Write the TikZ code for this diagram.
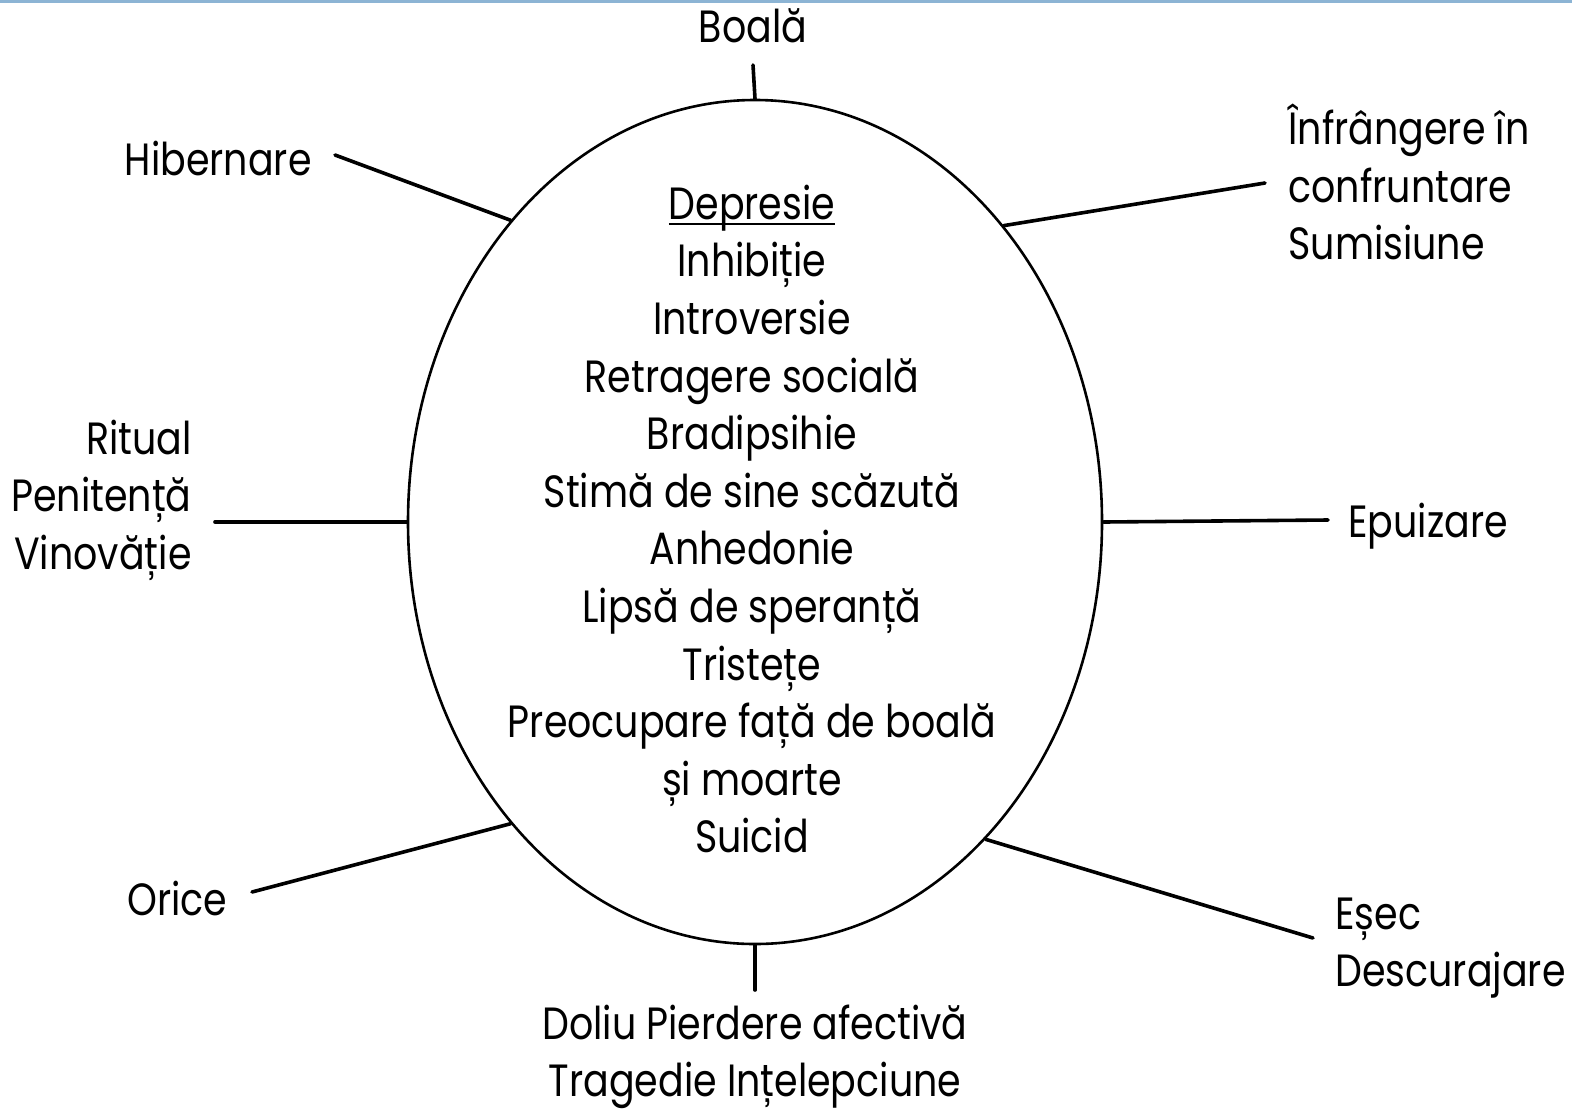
\documentclass[tikz,border=0pt]{standalone}
\usepackage{fontspec}
\setmainfont{Poppins}[FakeStretch=0.84]
\usetikzlibrary{shapes.geometric}
\definecolor{topline}{RGB}{140,180,212}
\newcommand\myul[1]{\setbox0\hbox{#1}\rlap{\rule[-3pt]{\wd0}{1.3pt}}\box0}
\begin{document}
\begin{tikzpicture}[x=0.5pt,y=-0.5pt,
  lbl/.style={inner sep=0pt, font=\fontsize{22.6}{28.8}\selectfont},
  conn/.style={line width=1.8pt, line cap=round}]
\useasboundingbox (0,0) rectangle (1572,1114);
\fill[topline] (0,0) rectangle (1572,3);
\node[ellipse, draw, line width=1.3pt, minimum width=347pt, minimum height=422pt, inner sep=0pt] (E) at (755,522) {};
\node[lbl, align=center] (T) at (752,519) {\myul{Depresie}\\Inhibiție\\Introversie\\Retragere socială\\Bradipsihie\\Stimă de sine scăzută\\Anhedonie\\Lipsă de speranță\\Tristețe\\Preocupare față de boală\\și moarte\\Suicid};
\node[lbl] (boala) at (753,26) {Boală};
\node[lbl, anchor=east] (hib) at (312,158) {Hibernare};
\node[lbl, anchor=west, align=left] (infr) at (1288,182) {Înfrângere în\\confruntare\\Sumisiune};
\node[lbl, anchor=east, align=right] (rit) at (192,500) {Ritual\\Penitență\\Vinovăție};
\node[lbl, anchor=west] (epu) at (1348,526) {Epuizare};
\node[lbl, anchor=west] (ori) at (127,898) {Orice};
\node[lbl, anchor=west, align=left] (esec) at (1335,948) {Eșec\\Descurajare};
\node[lbl, align=center, font=\fontsize{22.6}{28.2}\selectfont] (dol) at (755,1057) {Doliu Pierdere afectivă\\Tragedie Ințelepciune};
\coordinate (cBoala) at (753,65);
\coordinate (cHib) at (335,155);
\coordinate (cInfr) at (1265,183);
\coordinate (cRit) at (215,522);
\coordinate (cEpu) at (1328,520);
\coordinate (cOri) at (252,892);
\coordinate (cEsec) at (1313,938);
\coordinate (cDol) at (755,990);
\draw[conn] (cBoala) -- (E.90);
\draw[conn] (cHib) -- (E.129.4);
\draw[conn] (cInfr) -- (E.50.7);
\draw[conn] (cRit) -- (E.180);
\draw[conn] (cEpu) -- (E.0);
\draw[conn] (cOri) -- (E.-129.8);
\draw[conn] (cEsec) -- (E.-54.1);
\draw[conn] (cDol) -- (E.-90);
\end{tikzpicture}
\end{document}
